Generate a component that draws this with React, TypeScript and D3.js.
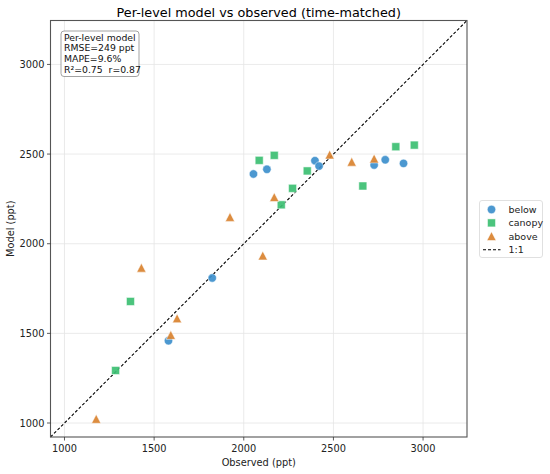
import React from 'react'
import * as d3 from 'd3'

const belowObs = [1580, 1824, 2054, 2129, 2397, 2420, 2727, 2789, 2891]
const belowMod = [1459, 1809, 2389, 2415, 2463, 2433, 2439, 2468, 2448]
const canopyObs = [1285, 1368, 2086, 2170, 2209, 2272, 2354, 2664, 2848, 2951]
const canopyMod = [1293, 1678, 2465, 2493, 2217, 2309, 2406, 2322, 2541, 2550]
const aboveObs = [1177, 1429, 1593, 1628, 1923, 2106, 2170, 2479, 2602, 2727]
const aboveMod = [1022, 1865, 1490, 1583, 2148, 1933, 2259, 2496, 2456, 2474]

const axisLimits = [922, 3245]
const tickValues = [1000, 1500, 2000, 2500, 3000]
const statLines = ['Per-level model', 'RMSE=249 ppt', 'MAPE=9.6%', 'R²=0.75  r=0.87']

const W = 550
const H = 474
const left = 50.5
const right = 467
const top = 20.5
const bottom = 437
const font = 'DejaVu Sans, sans-serif'

const colors = { below: '#3d8fcc', canopy: '#3cbf72', above: '#d9822f' }

const circlePath = d3.symbol().type(d3.symbolCircle).size(Math.PI * 4.2 * 4.2)()
const squarePath = d3.symbol().type(d3.symbolSquare).size(8 * 8)()
const triPath = 'M0,-4.6L4.6,4.2L-4.6,4.2Z'

const App = () => {
  const x = d3.scaleLinear().domain(axisLimits).range([left, right])
  const y = d3.scaleLinear().domain(axisLimits).range([bottom, top])

  const series = [
    { name: 'below', obs: belowObs, mod: belowMod, path: circlePath, color: colors.below },
    { name: 'canopy', obs: canopyObs, mod: canopyMod, path: squarePath, color: colors.canopy },
    { name: 'above', obs: aboveObs, mod: aboveMod, path: triPath, color: colors.above },
  ]

  const legX = 479.5
  const legY = 200.5
  return (
    <svg width={W} height={H} style={{ position: 'absolute', left: 0, top: 0, background: '#fff' }} fontFamily={font}>
      {/* title */}
      <text x={(left + right) / 2} y={16.5} textAnchor="middle" fontSize={12.8} fill="#000">
        Per-level model vs observed (time-matched)
      </text>

      {/* grid */}
      <g stroke="#e5e5e5" strokeWidth={0.8}>
        {tickValues.map((t) => (
          <line key={'gx' + t} x1={x(t)} x2={x(t)} y1={top} y2={bottom} />
        ))}
        {tickValues.map((t) => (
          <line key={'gy' + t} x1={left} x2={right} y1={y(t)} y2={y(t)} />
        ))}
      </g>

      {/* 1:1 line */}
      <line
        x1={x(axisLimits[0])}
        y1={y(axisLimits[0])}
        x2={x(axisLimits[1])}
        y2={y(axisLimits[1])}
        stroke="#000"
        strokeWidth={1.1}
        strokeDasharray="3,2"
      />

      {/* points */}
      {series.map((s) => (
        <g key={s.name}>
          {s.obs.map((v, i) => (
            <path
              key={i}
              d={s.path || ''}
              transform={`translate(${x(v)},${y(s.mod[i])})`}
              fill={s.color}
              fillOpacity={0.92}
              stroke="#fff"
              strokeWidth={0.5}
            />
          ))}
        </g>
      ))}

      {/* frame */}
      <rect x={left} y={top} width={right - left} height={bottom - top} fill="none" stroke="#555" strokeWidth={1.1} />

      {/* x ticks */}
      {tickValues.map((t) => (
        <g key={'xt' + t}>
          <line x1={x(t)} x2={x(t)} y1={bottom} y2={bottom + 3.5} stroke="#333" strokeWidth={0.8} />
          <text x={x(t)} y={bottom + 15} textAnchor="middle" fontSize={9.8} fill="#222">
            {t}
          </text>
        </g>
      ))}
      {/* y ticks */}
      {tickValues.map((t) => (
        <g key={'yt' + t}>
          <line x1={left - 3.5} x2={left} y1={y(t)} y2={y(t)} stroke="#333" strokeWidth={0.8} />
          <text x={left - 6} y={y(t) + 3.5} textAnchor="end" fontSize={9.8} fill="#222">
            {t}
          </text>
        </g>
      ))}

      {/* axis labels */}
      <text x={(left + right) / 2} y={466} textAnchor="middle" fontSize={9.8} fill="#222">
        Observed (ppt)
      </text>
      <text
        transform={`translate(13.5,${(top + bottom) / 2}) rotate(-90)`}
        textAnchor="middle"
        fontSize={9.8}
        fill="#222"
      >
        Model (ppt)
      </text>

      {/* stats box */}
      <rect x={61} y={31} width={78} height={45.5} rx={3} fill="#fff" fillOpacity={0.9} stroke="#999" strokeWidth={0.9} />
      {statLines.map((l, i) => (
        <text key={l} x={64} y={40.5 + i * 10.7} fontSize={9.3} fill="#111" style={{ whiteSpace: 'pre' }}>
          {l}
        </text>
      ))}

      {/* legend */}
      <rect x={legX} y={legY} width={63} height={57} rx={2.5} fill="#fff" stroke="#ddd" strokeWidth={0.9} />
      {series.map((s, i) => (
        <g key={'lg' + s.name} transform={`translate(0,${legY + 9 + i * 13.4})`}>
          <path d={s.path || ''} transform={`translate(${legX + 12},0)`} fill={s.color} fillOpacity={0.92} stroke="#fff" strokeWidth={0.5} />
          <text x={legX + 29} y={3.4} fontSize={9.5} fill="#222">
            {s.name}
          </text>
        </g>
      ))}
      <g transform={`translate(0,${legY + 9 + 3 * 13.4})`}>
        <line x1={legX + 3.5} x2={legX + 21} y1={0} y2={0} stroke="#000" strokeWidth={1.1} strokeDasharray="3,2" />
        <text x={legX + 29} y={3.4} fontSize={9.5} fill="#222">
          1:1
        </text>
      </g>
    </svg>
  )
}

export default App
